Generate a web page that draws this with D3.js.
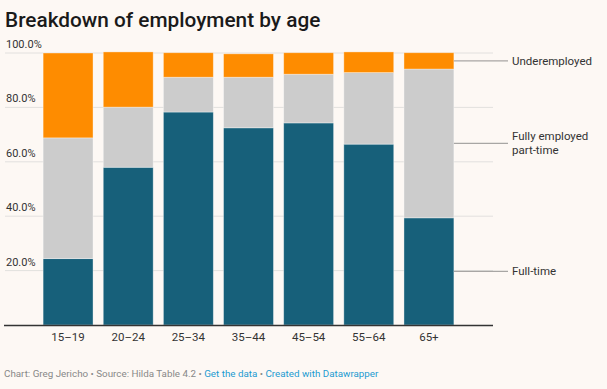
<!DOCTYPE html>
<html>
<head>
<meta charset="utf-8">
<script src="https://cdn.jsdelivr.net/npm/d3@7"></script>
<style>
  body { margin: 0; background: #fdf8f4; }
  svg { display: block; font-family: Roboto, "Noto Sans", sans-serif; }
</style>
</head>
<body>
<div id="chart"></div>
<script>
// data (percent of age group)
var ageGroups = ["15–19", "20–24", "25–34", "35–44", "45–54", "55–64", "65+"];
var fullTime = [24.4, 58.0, 78.3, 72.5, 74.3, 66.5, 39.4];
var partTime = [44.4, 22.1, 12.8, 18.6, 17.9, 26.3, 54.7];
var underEmployed = [31.2, 20.3, 9.0, 8.6, 7.9, 7.6, 6.0];
var seriesNames = ["Full-time", "Fully employed part-time", "Underemployed"];
var seriesLabels = [["Full-time"], ["Fully employed", "part-time"], ["Underemployed"]];
var yTicks = [20, 40, 60, 80, 100];

var width = 607, height = 389;
var colors = ["#17607a", "#cccccc", "#fe8c00"];

var rows = ageGroups.map(function (g, i) {
  return { group: g, "Full-time": fullTime[i], "Fully employed part-time": partTime[i], "Underemployed": underEmployed[i] };
});
var stacked = d3.stack().keys(seriesNames)(rows);

var svg = d3.select("#chart").append("svg")
  .attr("width", width)
  .attr("height", height);

svg.append("rect").attr("width", width).attr("height", height).attr("fill", "#fdf8f4");

/* Title */
svg.append("text")
  .attr("x", 5)
  .attr("y", 27)
  .attr("font-size", "20.8px")
  .attr("font-weight", 500)
  .attr("fill", "#1a1a1a")
  .text("Breakdown of employment by age");

/* Scales */
var xScale = d3.scaleBand()
  .domain(ageGroups)
  .range([38, 459])
  .paddingInner(0.17)
  .paddingOuter(0.085);

var yScale = d3.scaleLinear()
  .domain([0, 100])
  .range([325, 53]);

/* Grid + y labels */
var grid = svg.append("g");
grid.selectAll("line")
  .data(yTicks)
  .join("line")
  .attr("x1", 5)
  .attr("x2", 493)
  .attr("y1", d => yScale(d))
  .attr("y2", d => yScale(d))
  .attr("stroke", "#e2e0de")
  .attr("stroke-width", 1);

grid.selectAll("text")
  .data(yTicks)
  .join("text")
  .attr("x", 6)
  .attr("y", d => yScale(d) - 5)
  .attr("font-size", "11px")
  .attr("fill", "#333")
  .text(d => d3.format(".1f")(d) + "%");

/* Bars */
svg.append("g")
  .selectAll("g")
  .data(stacked)
  .join("g")
  .attr("fill", (d, i) => colors[i])
  .selectAll("rect")
  .data(d => d)
  .join("rect")
  .attr("x", d => xScale(d.data.group))
  .attr("width", xScale.bandwidth())
  .attr("y", d => yScale(d[1]))
  .attr("height", d => yScale(d[0]) - yScale(d[1]))
  .attr("stroke", "rgba(255,255,255,0.45)")
  .attr("stroke-width", 0.8);

/* Baseline + x labels */
svg.append("line")
  .attr("x1", 4)
  .attr("x2", 493)
  .attr("y1", yScale(0) + 0.5)
  .attr("y2", yScale(0) + 0.5)
  .attr("stroke", "#333")
  .attr("stroke-width", 1.5);

svg.append("g")
  .selectAll("text")
  .data(ageGroups)
  .join("text")
  .attr("x", d => xScale(d) + xScale.bandwidth() / 2)
  .attr("y", 341)
  .attr("text-anchor", "middle")
  .attr("font-size", "11.5px")
  .attr("fill", "#333")
  .text(d => d);

/* Series labels at the last bar */
var last = ageGroups[ageGroups.length - 1];
var labelX = 512;
stacked.forEach(function (s, i) {
  var seg = s[s.length - 1];
  var ym = yScale((seg[0] + seg[1]) / 2);
  svg.append("line")
    .attr("x1", xScale(last) + xScale.bandwidth())
    .attr("x2", labelX - 4)
    .attr("y1", ym)
    .attr("y2", ym)
    .attr("stroke", "#a8a6a4")
    .attr("stroke-width", 1.3);
  var lines = seriesLabels[i];
  var t = svg.append("text")
    .attr("x", labelX)
    .attr("y", ym - (lines.length - 1) * 7 + 4)
    .attr("font-size", "11.5px")
    .attr("fill", "#333");
  lines.forEach(function (l, j) {
    t.append("tspan")
      .attr("x", labelX)
      .attr("dy", j === 0 ? 0 : 14)
      .text(l);
  });
});

/* Footer */
var foot = svg.append("text")
  .attr("x", 4)
  .attr("y", 377)
  .attr("font-size", "9.8px")
  .attr("fill", "#888");
foot.append("tspan").text("Chart: Greg Jericho • Source: Hilda Table 4.2 • ");
foot.append("tspan").attr("fill", "#1d9bd1").text("Get the data");
foot.append("tspan").text(" • ");
foot.append("tspan").attr("fill", "#1d9bd1").text("Created with Datawrapper");
</script>
</body>
</html>
